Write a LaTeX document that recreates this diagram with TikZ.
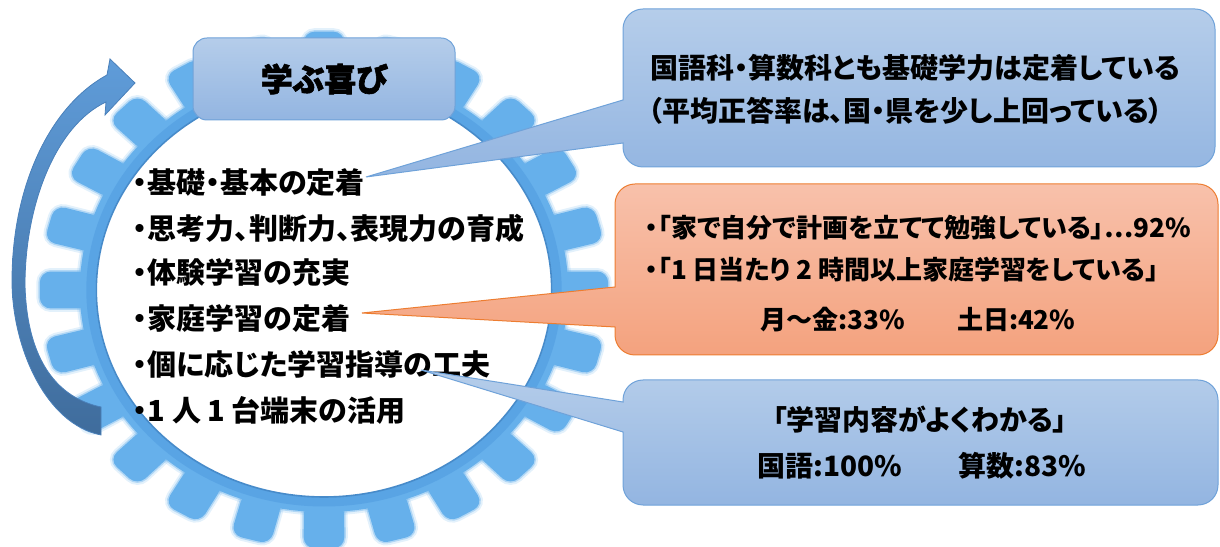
\documentclass[tikz,border=0pt]{standalone}
\usepackage{fontspec}
\newfontfamily\jp{Noto Sans CJK JP}[RawFeature=+palt]
\newfontfamily\jptitle{Noto Sans CJK JP}[RawFeature=+palt,BoldFeatures={FakeBold=2}]
\definecolor{gearblue}{HTML}{66B0EB}
\definecolor{gearrim}{HTML}{4F9BE0}
\definecolor{boxtop}{HTML}{B5CDEA}
\definecolor{boxbot}{HTML}{93B5E1}
\definecolor{boxline}{HTML}{6FA2D9}
\definecolor{ortop}{HTML}{F8C1AB}
\definecolor{orbot}{HTML}{F4A27E}
\definecolor{orline}{HTML}{ED7D31}
\definecolor{arrtop}{HTML}{5F9CD9}
\definecolor{arrbot}{HTML}{3F6C9C}
\definecolor{arrline}{HTML}{4A80BA}
\newcommand\mycallout[8]{%
  \path[#1] (#2,#6) -- (#2,#5-20) arc[start angle=180,end angle=90,radius=20pt]
    -- (#4-20,#5) arc[start angle=90,end angle=0,radius=20pt]
    -- (#4,#3+20) arc[start angle=0,end angle=-90,radius=20pt]
    -- (#2+20,#3) arc[start angle=270,end angle=180,radius=20pt]
    -- (#2,#7) -- (#8) -- cycle;}
\newcommand\gearshape[1]{%
  \path[#1] (0,0) circle (222pt);
  \foreach \a in {0,15,...,345}{
    \path[#1,rounded corners=11pt] (\a-4.9:214pt) -- (\a-4.1:259pt) -- (\a+4.1:259pt) -- (\a+4.9:214pt) -- cycle;
  }}
\tikzset{
  bluecall/.style={top color=boxtop,bottom color=boxbot,draw=boxline,line width=1pt},
  orcall/.style={top color=ortop,bottom color=orbot,draw=orline,line width=1pt},
  listtext/.style={anchor=west,inner sep=0pt,font=\jp\bfseries\fontsize{29pt}{32pt}\selectfont},
  calltextA/.style={inner sep=0pt,font=\jp\bfseries\fontsize{28pt}{32pt}\selectfont},
  calltextB/.style={inner sep=0pt,font=\jp\bfseries\fontsize{26pt}{30pt}\selectfont},
  gearhalo/.style={draw=gearblue,draw opacity=0.18,line width=7pt},
  gearpart/.style={fill=gearblue,draw=gearblue,draw opacity=0.4,line width=3pt},
}
\begin{document}
\begin{tikzpicture}[x=1pt,y=1pt]
\useasboundingbox (0,0) rectangle (1220,546);
% gear
\begin{scope}[shift={(324,256)},xscale=1.1]
  \gearshape{gearhalo}
  \gearshape{gearpart}
  \draw[gearrim,line width=9pt,opacity=0.55] (0,0) circle (212pt);
  \path[fill=white,draw=gearrim!90!black,line width=1.6pt] (0,0) circle (207pt);
\end{scope}
% curved arrow
\path[top color=arrtop,bottom color=arrbot,draw=arrline,line width=0.8pt]
  (101,111) .. controls (45,122) and (12,200) .. (12,265)
  .. controls (12,360) and (50,440) .. (107,471)
  -- (110,487) -- (135,463) -- (105,431) -- (106,444)
  .. controls (55,420) and (25,340) .. (25,261)
  .. controls (27,185) and (58,148) .. (101,139) -- cycle;
% title box
\node[bluecall,rounded corners=14pt,minimum width=262pt,minimum height=82pt,
  font=\jptitle\bfseries\fontsize{32pt}{34pt}\selectfont] (title) at (324,467) {学ぶ喜び};
% list
\node[listtext] (l1) at (133,363) {・基礎・基本の定着};
\node[listtext] (l2) at (133,318) {・思考力、判断力、表現力の育成};
\node[listtext] (l3) at (133,274) {・体験学習の充実};
\node[listtext] (l4) at (133,228) {・家庭学習の定着};
\node[listtext] (l5) at (133,182) {・個に応じた学習指導の工夫};
\node[listtext] (l6) at (133,136) {・1 人 1 台端末の活用};
% callouts
\coordinate (tip1) at (366,369);
\coordinate (tip2) at (362,233);
\coordinate (tip3) at (421,176);
\mycallout{bluecall}{623}{379}{1215}{537}{446}{403}{tip1}
\mycallout{orcall}{615}{191}{1218}{362}{259}{219}{tip2}
\mycallout{bluecall}{623}{41}{1218}{166}{144}{114}{tip3}
\node[calltextA,anchor=west] (c1a) at (650,478) {国語科・算数科とも基礎学力は定着している};
\node[calltextA,anchor=west] (c1b) at (648,435) {（平均正答率は、国・県を少し上回っている）};
\node[calltextB,anchor=west] (c2a) at (645,318) {・「家で自分で計画を立てて勉強している」⋯92\%};
\node[calltextB,anchor=west] (c2b) at (645,276) {・「1 日当たり 2 時間以上家庭学習をしている」};
\node[calltextB] (c2c) at (918,226) {月～金:33\%\hspace{2em}土日:42\%};
\node[calltextA] (c3a) at (920,126) {「学習内容がよくわかる」};
\node[calltextA] (c3b) at (922,80) {国語:100\%\hspace{2em}算数:83\%};
\end{tikzpicture}
\end{document}
